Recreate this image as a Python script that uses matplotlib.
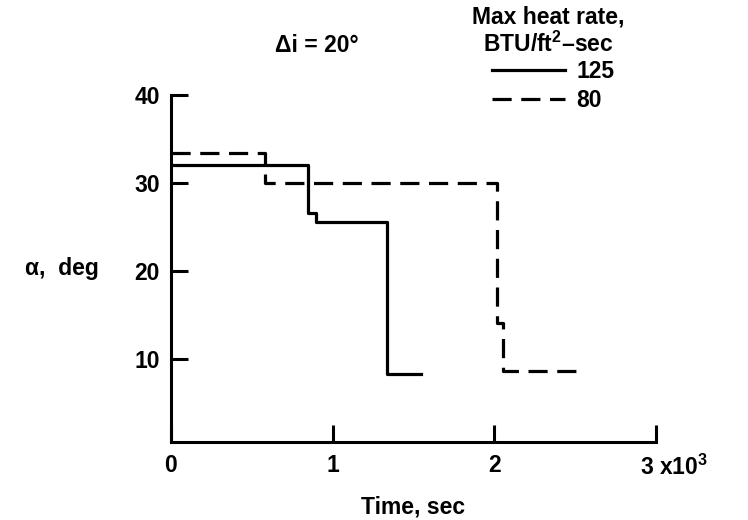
import matplotlib.pyplot as plt
from matplotlib.lines import Line2D

plt.rcParams['font.family'] = ['Liberation Sans', 'DejaVu Sans']
plt.rcParams['font.weight'] = 'bold'
plt.rcParams['axes.labelweight'] = 'bold'
plt.rcParams['mathtext.fontset'] = 'custom'
plt.rcParams['mathtext.rm'] = 'Liberation Sans:bold'
plt.rcParams['mathtext.it'] = 'Liberation Sans:bold'
plt.rcParams['mathtext.default'] = 'rm'

# time in 10^3 sec, angle of attack in deg
t_125 = [0, 0.85, 0.90, 1.335, 1.545]
a_125 = [32.0, 26.6, 25.6, 8.3, 8.3]
t_80 = [0, 0.58, 2.02, 2.055, 2.52]
a_80 = [33.4, 30.0, 14.0, 8.6, 8.6]
series_labels = ["125", "80"]

xticks = [0, 1, 2, 3]
xticklabels = ["0", "1", "2", ""]
yticks = [10, 20, 30, 40]

fs = 16.5
lw = 2.3

fig = plt.figure(figsize=(7.48, 5.2), dpi=100)
ax = fig.add_axes([0.2286, 0.150, 0.648, 0.667])

ax.step(t_125, a_125, where='post', color='black', lw=lw)
ax.step(t_80, a_80, where='post', color='black', lw=lw, dashes=(6, 3))

ax.set_xlim(0, 3)
ax.set_ylim(0.5, 40)
for s in ['top', 'right']:
    ax.spines[s].set_visible(False)
for s in ['left', 'bottom']:
    ax.spines[s].set_linewidth(2.2)

ax.set_xticks(xticks)
ax.set_xticklabels(xticklabels)
ax.set_yticks(yticks)
ax.tick_params(axis='both', direction='in', length=12, width=2.2,
               labelsize=fs, pad=8)
ax.tick_params(axis='x', pad=9)

# label of last x tick carries the scale factor
ax.annotate(r"3 x10$^3$", xy=(3, 0), xycoords=('data', 'axes fraction'),
            xytext=(-11, -9), textcoords='offset points',
            fontsize=fs, ha='left', va='top')

ax.set_xlabel("Time, sec", fontsize=fs, labelpad=13)
fig.text(62 / 748, 1 - 268 / 520, "α,  deg", fontsize=fs, ha='center', va='center')
fig.text(317 / 748, 1 - 46 / 520, "Δi = 20°", fontsize=fs, ha='center', va='center')

fig.text(548 / 748, 1 - 31 / 520, "Max heat rate,\nBTU/ft$^2$–sec", fontsize=fs,
         ha='center', va='center', linespacing=1.15)

handles = [Line2D([], [], color='black', lw=lw),
           Line2D([], [], color='black', lw=lw, dashes=(6, 3))]
leg = ax.legend(handles, series_labels, loc='center',
                bbox_to_anchor=(553 / 748, 1 - 86 / 520),
                bbox_transform=fig.transFigure, frameon=False, fontsize=fs,
                handlelength=3.2, handletextpad=0.5,
                labelspacing=0.25, borderpad=0.1)

fig.savefig("out.png", dpi=100)
